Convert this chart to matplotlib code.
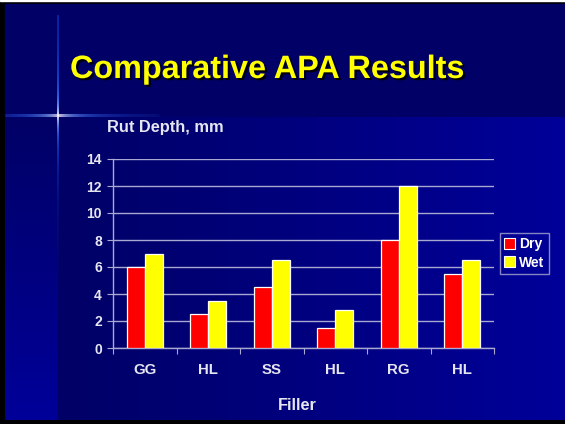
#!/usr/bin/env python3
import matplotlib

matplotlib.use("Agg")
import matplotlib.pyplot as plt
import matplotlib.patheffects as pe
from matplotlib.patches import Patch, Rectangle
import numpy as np

CATEGORIES = ["GG", "HL", "SS", "HL", "RG", "HL"]
DRY = [6.0, 2.5, 4.5, 1.5, 8.0, 5.5]
WET = [7.0, 3.5, 6.5, 2.8, 12.0, 6.5]
SERIES = ["Dry", "Wet"]
Y_TICKS = [0, 2, 4, 6, 8, 10, 12, 14]

TEXT = "#e6e6f0"
GRID = "#a8a8d0"

plt.rcParams["font.family"] = ["Liberation Sans", "DejaVu Sans"]
plt.rcParams["font.weight"] = "bold"

W, H = 565, 424
fig = plt.figure(figsize=(W / 100, H / 100), dpi=100)

# background slide
bg = fig.add_axes([0, 0, 1, 1])
bg.set_xlim(0, W)
bg.set_ylim(H, 0)
bg.axis("off")
bg.add_patch(Rectangle((0, 0), W, H, color="black", zorder=0))
bg.add_patch(Rectangle((0, 0), W, 1, color="white", zorder=1))
bg.add_patch(Rectangle((5, 4), W - 5, 113, color="#000066", zorder=1))
dark = np.array([0.0, 0.0, 0.40])
light = np.array([0.0, 0.0, 0.60])
t = np.linspace(0, 1, 256)
hgrad = (dark[None, :] * (1 - t[:, None]) + light[None, :] * t[:, None])[None, :, :]
bg.imshow(hgrad, extent=[58, W, 420, 117], aspect="auto", zorder=1)
vgrad = (dark[None, :] * (1 - t[:, None]) + light[None, :] * t[:, None])[:, None, :]
bg.imshow(vgrad, extent=[5, 58, 420, 117], aspect="auto", zorder=1, origin="upper")

# glow cross
gx, gy = 58, 115
xs = np.arange(5, 160)
for x0, x1 in zip(xs[:-1], xs[1:]):
    d = abs(x0 - gx)
    a = np.exp(-d / 45.0)
    c = (min(1, 0.2 + 0.9 * np.exp(-d / 12)), min(1, 0.4 + 0.6 * np.exp(-d / 15)), 1.0)
    bg.plot([x0, x1], [gy, gy], color=c, alpha=a, lw=2.2, solid_capstyle="butt", zorder=2)
ys = np.arange(15, 421)
for y0, y1 in zip(ys[:-1], ys[1:]):
    d = abs(y0 - gy)
    a = max(0.4, np.exp(-d / 90.0)) if y0 < gy else np.exp(-d / 45.0)
    c = (min(1, 0.1 + 0.9 * np.exp(-d / 10)), min(1, 0.35 + 0.6 * np.exp(-d / 12)), 1.0)
    bg.plot([gx, gx], [y0, y1], color=c, alpha=a, lw=1.4, solid_capstyle="butt", zorder=2)

# title
bg.text(70, 78, "Comparative APA Results", color="#ffff00", fontsize=23.3,
        fontweight="bold", ha="left", va="baseline", zorder=3,
        path_effects=[pe.withSimplePatchShadow(offset=(1.5, -1.5), shadow_rgbFace="black", alpha=0.9)])
bg.text(107, 132, "Rut Depth, mm", color=TEXT, fontsize=11.8, fontweight="bold",
        ha="left", va="baseline", zorder=3)
bg.text(297, 406, "Filler", color=TEXT, fontsize=11.8, fontweight="bold",
        ha="center", va="center", zorder=3)

# chart
ax = fig.add_axes([113 / W, 1 - 348 / H, 381 / W, 189 / H])
ax.patch.set_alpha(0)
x = np.arange(len(CATEGORIES))
bw = 0.285
ax.bar(x - bw / 2, DRY, width=bw, color="#ff0000", edgecolor="white", linewidth=0.9, zorder=3)
ax.bar(x + bw / 2, WET, width=bw, color="#ffff00", edgecolor="white", linewidth=0.9, zorder=3)
ax.set_xlim(-0.5, len(CATEGORIES) - 0.5)
ax.set_ylim(0, 14)
ax.set_yticks(Y_TICKS)
ax.set_yticklabels([str(v) for v in Y_TICKS], color=TEXT, fontsize=10, fontweight="bold")
ax.set_xticks(np.arange(len(CATEGORIES) + 1) - 0.5)
ax.set_xticklabels([])
ax.set_xticks(x, minor=True)
ax.set_xticklabels(CATEGORIES, minor=True, color=TEXT, fontsize=10.8, fontweight="bold")
ax.tick_params(axis="x", which="minor", length=0, pad=11)
ax.tick_params(axis="x", which="major", length=4, color=GRID, direction="out")
ax.tick_params(axis="y", length=4, color=GRID, pad=4)
ax.grid(axis="y", color=GRID, linewidth=1.0, zorder=1)
for side in ["top", "right"]:
    ax.spines[side].set_visible(False)
for side in ["left", "bottom"]:
    ax.spines[side].set_color(GRID)
    ax.spines[side].set_linewidth(1.0)

handles = [Patch(facecolor="#ff0000", edgecolor="white", linewidth=0.8),
           Patch(facecolor="#ffff00", edgecolor="white", linewidth=0.8)]
leg = fig.legend(handles, SERIES, loc="center left", bbox_to_anchor=(500 / W, 1 - 253.5 / H),
                 frameon=True, fancybox=False, handlelength=0.8, handleheight=0.8,
                 handletextpad=0.3, borderpad=0.3, labelspacing=0.3, borderaxespad=0,
                 prop={"weight": "bold", "size": 10})
leg.get_frame().set_facecolor("none")
leg.get_frame().set_edgecolor(GRID)
leg.get_frame().set_linewidth(1.0)
for txt in leg.get_texts():
    txt.set_color("white")

fig.savefig("out.png", dpi=100)
